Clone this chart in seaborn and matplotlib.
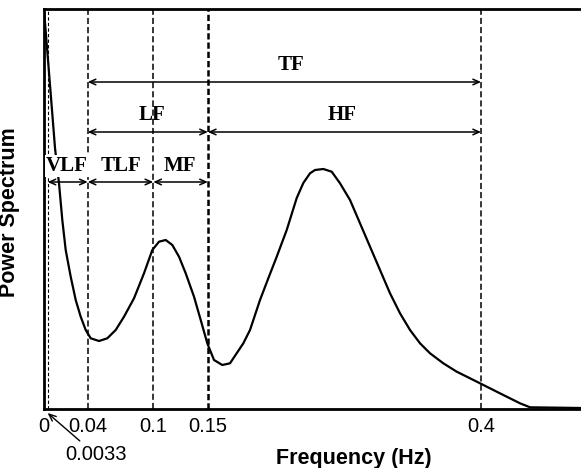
import matplotlib
matplotlib.use("Agg")
import matplotlib.pyplot as plt
import seaborn as sns
import pandas as pd

# Power spectrum curve (frequency in Hz, relative power)
freq = [0.0, 0.00366, 0.00732, 0.01007, 0.01373, 0.01675, 0.01986, 0.02444,
        0.02902, 0.03359, 0.03817, 0.04275, 0.05034, 0.05794, 0.06563, 0.07323,
        0.08238, 0.09153, 0.09913, 0.10526, 0.11140, 0.11744, 0.12357, 0.12970,
        0.13730, 0.14343, 0.14947, 0.15561, 0.16320, 0.17025, 0.18243, 0.18856,
        0.19771, 0.20531, 0.21300, 0.22215, 0.23130, 0.23735, 0.24348, 0.24805,
        0.25565, 0.26334, 0.27094, 0.28009, 0.28924, 0.29840, 0.30755, 0.31670,
        0.32586, 0.33501, 0.34416, 0.35332, 0.36549, 0.37776, 0.38993, 0.39908,
        0.41126, 0.42352, 0.43570, 0.44485, 0.49153]
power = [0.9975, 0.8725, 0.7475, 0.6525, 0.56425, 0.4725, 0.3975, 0.33075,
         0.2725, 0.23075, 0.1975, 0.17675, 0.17, 0.17675, 0.1975, 0.23075,
         0.27675, 0.33925, 0.3975, 0.41825, 0.4225, 0.41, 0.38075, 0.33925,
         0.28075, 0.2225, 0.16425, 0.1225, 0.11, 0.11425, 0.16425, 0.1975,
         0.2725, 0.32675, 0.38075, 0.4475, 0.5275, 0.565, 0.58925, 0.5975,
         0.6, 0.59325, 0.56425, 0.5225, 0.46425, 0.40575, 0.3475, 0.28925,
         0.23925, 0.1975, 0.16425, 0.13925, 0.11425, 0.09325, 0.07675, 0.06425,
         0.0475, 0.03075, 0.01425, 0.00425, 0.0025]

# Band boundaries
boundaries = [0.0033, 0.04, 0.1, 0.15, 0.4]
tick_values = [0, 0.04, 0.1, 0.15, 0.4]
tick_labels = ["0", "0.04", "0.1", "0.15", "0.4"]

# Bands: label, start, end, arrow level, label level, label x
band_names = ["TF", "LF", "HF", "VLF", "TLF", "MF"]
band_start = [0.04, 0.04, 0.15, 0.0033, 0.04, 0.1]
band_end = [0.4, 0.15, 0.4, 0.04, 0.1, 0.15]
band_arrow_y = [0.8175, 0.6925, 0.6925, 0.5675, 0.5675, 0.5675]
band_label_y = [0.86, 0.735, 0.735, 0.6075, 0.6075, 0.6075]
band_label_x = [0.226, 0.0985, 0.273, 0.021, 0.0705, 0.1245]

df = pd.DataFrame({"freq": freq, "power": power})

fig = plt.figure(figsize=(5.81, 4.68), dpi=100)
ax = fig.add_axes([44 / 581, 1 - 409 / 468, 1 - 44 / 581, 400 / 468])

sns.lineplot(data=df, x="freq", y="power", ax=ax, color="black", lw=1.6,
             zorder=3, solid_joinstyle="round")

for b in boundaries:
    if b == 0.15:
        ax.axvline(b, color="black", lw=1.8, ls=(0, (2.5, 1.2)), zorder=2)
    elif b == 0.0033:
        ax.axvline(b, color="black", lw=0.8, ls=(0, (3, 2)), zorder=2)
    else:
        ax.axvline(b, color="black", lw=1.1, ls=(0, (4, 2)), zorder=2)

serif = "Liberation Serif"
for name, s, e, ay, ly, lx in zip(band_names, band_start, band_end,
                                  band_arrow_y, band_label_y, band_label_x):
    ax.annotate("", xy=(e, ay), xytext=(s, ay),
                arrowprops=dict(arrowstyle="<->,head_length=0.45,head_width=0.2",
                                color="black", lw=1.1, shrinkA=0, shrinkB=0),
                zorder=4)
    bbox = dict(facecolor="white", edgecolor="none", pad=0.5) if name == "VLF" else None
    ax.text(lx, ly, name, ha="center", va="center", fontsize=15,
            fontweight="bold", family=serif, zorder=5, bbox=bbox)

ax.set_xlim(0, 0.4915)
ax.set_ylim(0, 1)
ax.set_xticks(tick_values)
ax.set_xticklabels(tick_labels, fontsize=14.5, family="Liberation Sans")
ax.set_yticks([])
ax.tick_params(axis="x", length=0, pad=6)

for side in ["left", "top", "bottom"]:
    ax.spines[side].set_linewidth(2.0)
    ax.spines[side].set_color("black")
ax.spines["right"].set_visible(False)

ax.set_xlabel("Frequency (Hz)", fontsize=15.5, fontweight="bold", family="Liberation Sans")
ax.xaxis.set_label_coords(0.577, -0.098)
ax.set_ylabel("Power Spectrum", fontsize=15.5, fontweight="bold", family="Liberation Sans")
ax.yaxis.set_label_coords(-0.045, 0.491)

ax.annotate("0.0033", xy=(0.0033, -0.01), xytext=(0.0195, -0.115),
            textcoords="data", ha="left", va="center", fontsize=14.5,
            family="Liberation Sans", annotation_clip=False,
            arrowprops=dict(arrowstyle="->,head_length=0.35,head_width=0.15",
                            color="black", lw=1.0, shrinkA=2, shrinkB=0))

fig.savefig("out.png", dpi=100)
